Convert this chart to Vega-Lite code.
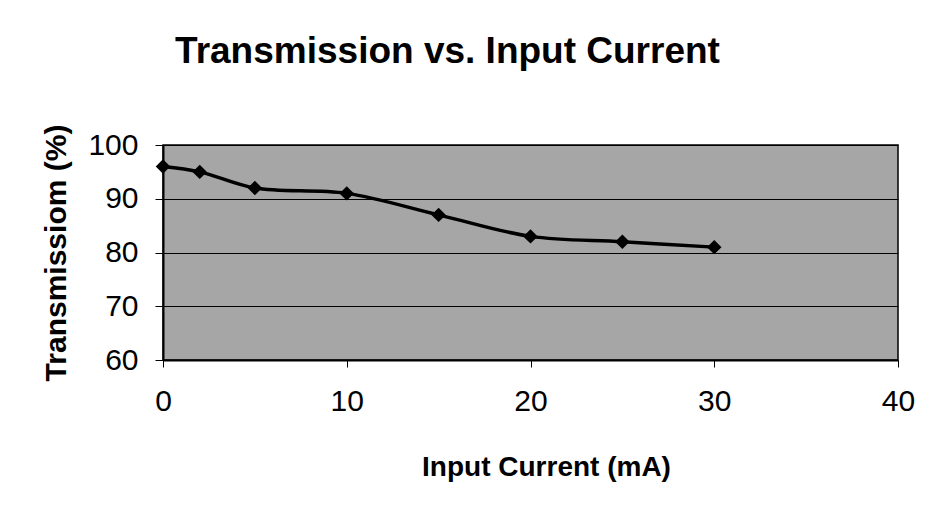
{
  "$schema": "https://vega.github.io/schema/vega-lite/v6.json",
  "autosize": {"type": "none"},
  "padding": {"left": 163, "top": 145, "right": 30, "bottom": 148},
  "width": 735,
  "height": 215,
  "background": "white",
  "title": {
    "text": "Transmission vs. Input Current",
    "font": "Liberation Sans",
    "fontSize": 37,
    "fontWeight": "bold",
    "color": "black",
    "anchor": "middle",
    "frame": "group",
    "dx": -83,
    "baseline": "alphabetic",
    "offset": 24
  },
  "data": {
    "values": [
      {"current": 0, "transmission": 96},
      {"current": 2, "transmission": 95},
      {"current": 5, "transmission": 92},
      {"current": 10, "transmission": 91},
      {"current": 15, "transmission": 87},
      {"current": 20, "transmission": 83},
      {"current": 25, "transmission": 82},
      {"current": 30, "transmission": 81}
    ]
  },
  "config": {
    "view": {"fill": "#a6a6a6", "stroke": "black", "strokeWidth": 1.5},
    "axis": {
      "labelFont": "Liberation Sans",
      "titleFont": "Liberation Sans",
      "labelColor": "black",
      "titleColor": "black",
      "domainColor": "black",
      "tickColor": "black",
      "labelFontSize": 30,
      "titleFontWeight": "bold"
    }
  },
  "encoding": {
    "x": {
      "field": "current",
      "type": "quantitative",
      "scale": {"domain": [0, 40], "nice": false},
      "axis": {
        "title": "Input Current (mA)",
        "titleFontSize": 28,
        "titleX": 383,
        "titleAlign": "center",
        "values": [0, 10, 20, 30, 40],
        "grid": false,
        "tickSize": 7,
        "labelPadding": 19,
        "titlePadding": 37,
        "domainWidth": 2,
        "labelFlush": false
      }
    },
    "y": {
      "field": "transmission",
      "type": "quantitative",
      "scale": {"domain": [60, 100], "nice": false, "zero": false},
      "axis": {
        "title": "Transmissiom (%)",
        "titleFontSize": 30,
        "values": [60, 70, 80, 90, 100],
        "grid": true,
        "gridColor": "black",
        "gridWidth": 1,
        "gridOpacity": 1,
        "tickSize": 8,
        "labelPadding": 17,
        "titlePadding": 16,
        "domainWidth": 2,
        "labelFlush": false
      }
    }
  },
  "layer": [
    {
      "mark": {"type": "line", "color": "black", "strokeWidth": 3.5, "interpolate": "catmull-rom"}
    },
    {
      "mark": {"type": "point", "shape": "diamond", "filled": true, "color": "black", "size": 210, "opacity": 1}
    }
  ]
}
